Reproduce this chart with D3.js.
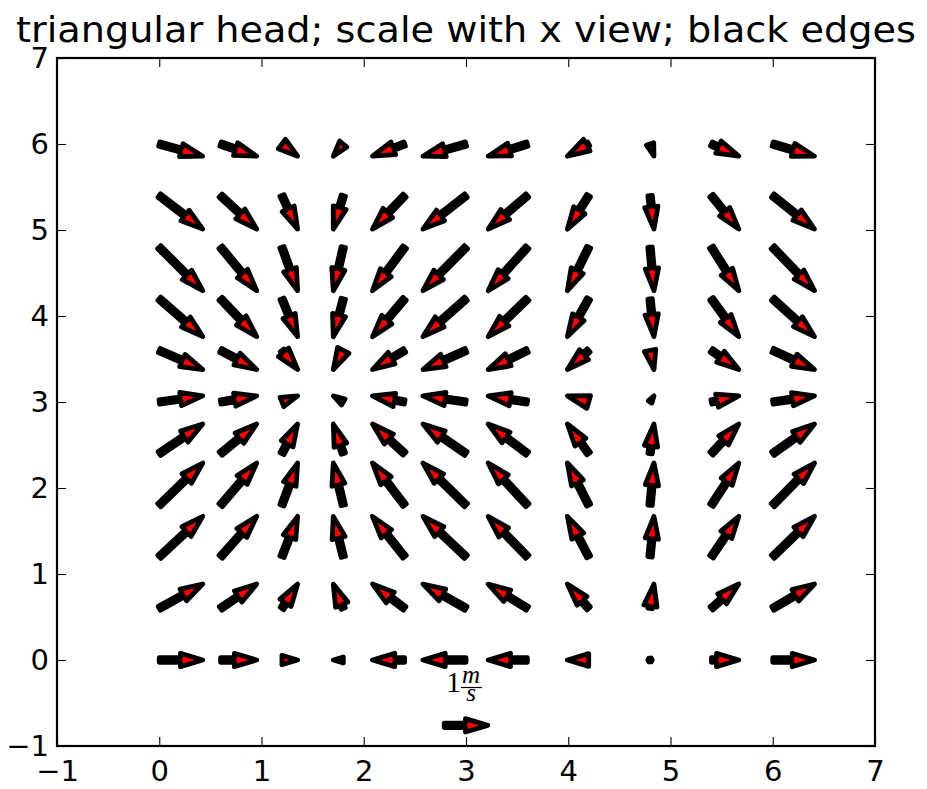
<!DOCTYPE html>
<html>
<head>
<meta charset="utf-8">
<script src="https://cdn.jsdelivr.net/npm/d3@7"></script>
<style>
  body { margin: 0; background: #fff; }
  text { font-family: "DejaVu Sans", sans-serif; }
</style>
</head>
<body>
<div id="plot-container"></div>
<script>
// grid positions (same for x and y)
const gridX = [0, 0.6, 1.2, 1.8, 2.4, 3.0, 3.6, 4.2, 4.8, 5.4, 6.0];
const gridY = [0, 0.6, 1.2, 1.8, 2.4, 3.0, 3.6, 4.2, 4.8, 5.4, 6.0];
// u depends on column, v on row
const uByCol = [1.00, 0.83, 0.36, -0.23, -0.74, -0.99, -0.90, -0.49, 0.09, 0.63, 0.96];
const vByRow = [0.00, 0.56, 0.93, 0.97, 0.68, 0.14, -0.44, -0.87, -1.00, -0.77, -0.28];
const tickValues = [-1, 0, 1, 2, 3, 4, 5, 6, 7];
const keyValue = 1;

const W = 927, H = 789;
const margin = { top: 58, right: 52, bottom: 43, left: 57 };

const svg = d3.select("#plot-container")
    .append("svg")
    .attr("width", W)
    .attr("height", H);

const xScale = d3.scaleLinear().domain([-1, 7]).range([margin.left, W - margin.right]);
const yScale = d3.scaleLinear().domain([-1, 7]).range([H - margin.bottom, margin.top]);

const shaftW = 0.06 * (xScale(7) - xScale(-1)) / 11;   // quiver width in px
const lenScale = 43.5;                                     // px per 1 m/s

// arrow outline (matplotlib style triangular head)
function arrowPath(cx, cy, u, v, pivotMiddle) {
    const headwidth = 3, headlength = 5, headaxis = 5, minsh = 5, minlength = 1;
    const L = Math.hypot(u, v) * lenScale / shaftW;
    let X, Y;
    if (L < minlength) {
        X = d3.range(8).map(i => Math.cos(i * Math.PI / 3) * 0.5);
        Y = d3.range(8).map(i => Math.sin(i * Math.PI / 3) * 0.5);
    } else if (L < minsh) {
        const s = L / minsh;
        X = [0, 0, 0, minsh, 0, 0, 0, 0].map(d => d * s);
        Y = [0.5, 0.5, headwidth / 2, 0, -headwidth / 2, -0.5, -0.5, 0.5].map(d => d * s);
    } else {
        X = [0, L - headaxis, L - headlength, L, L - headlength, L - headaxis, 0, 0];
        Y = [0.5, 0.5, headwidth / 2, 0, -headwidth / 2, -0.5, -0.5, 0.5];
    }
    if (pivotMiddle && L >= minlength) X = X.map(d => d - L / 2);
    const th = Math.atan2(v, u);
    const c = Math.cos(th), s = Math.sin(th);
    const pts = X.map((xx, i) => [
        cx + shaftW * (xx * c - Y[i] * s),
        cy - shaftW * (xx * s + Y[i] * c)
    ]);
    return "M" + pts.map(p => p[0].toFixed(2) + "," + p[1].toFixed(2)).join("L") + "Z";
}

const arrows = [];
gridY.forEach((gy, r) => {
    gridX.forEach((gx, c) => {
        arrows.push({ x: gx, y: gy, u: uByCol[c], v: vByRow[r] });
    });
});

// axes: ticks inside on all sides
const tickLen = 9;
svg.append("g")
    .attr("transform", "translate(0," + yScale(-1) + ")")
    .call(d3.axisBottom(xScale).tickValues(tickValues).tickSizeInner(-tickLen).tickSizeOuter(0).tickPadding(14));
svg.append("g")
    .attr("transform", "translate(" + xScale(-1) + ",0)")
    .call(d3.axisLeft(yScale).tickValues(tickValues).tickSizeInner(-tickLen).tickSizeOuter(0).tickPadding(8));
svg.append("g")
    .attr("transform", "translate(0," + yScale(7) + ")")
    .call(d3.axisTop(xScale).tickValues(tickValues).tickSizeInner(-tickLen).tickSizeOuter(0).tickFormat(""));
svg.append("g")
    .attr("transform", "translate(" + xScale(7) + ",0)")
    .call(d3.axisRight(yScale).tickValues(tickValues).tickSizeInner(-tickLen).tickSizeOuter(0).tickFormat(""));

svg.selectAll(".domain").remove();
svg.selectAll(".tick line").attr("stroke", "#000").attr("stroke-width", 1.1);
svg.selectAll(".tick text")
    .attr("fill", "#000")
    .style("font-family", "DejaVu Sans")
    .style("font-size", "29px");

// quiver
svg.append("g")
    .selectAll("path")
    .data(arrows)
    .enter()
    .append("path")
    .attr("d", d => arrowPath(xScale(d.x), yScale(d.y), d.u, d.v, false))
    .attr("fill", "#ff0000")
    .attr("stroke", "#000")
    .attr("stroke-width", 4.8)
    .attr("stroke-linejoin", "round");

// frame
svg.append("rect")
    .attr("x", xScale(-1))
    .attr("y", yScale(7))
    .attr("width", xScale(7) - xScale(-1))
    .attr("height", yScale(-1) - yScale(7))
    .attr("fill", "none")
    .attr("stroke", "#000")
    .attr("stroke-width", 2.2);

// quiver key
const keyX = xScale(-1) + 0.5 * (xScale(7) - xScale(-1));
const keyY = yScale(-1) - 0.03 * (yScale(-1) - yScale(7));
svg.append("path")
    .attr("d", arrowPath(keyX, keyY, keyValue, 0, true))
    .attr("fill", "#ff0000")
    .attr("stroke", "#000")
    .attr("stroke-width", 4.8)
    .attr("stroke-linejoin", "round");

const keyLabel = svg.append("g").attr("class", "key-label");
keyLabel.append("text")
    .attr("x", keyX - 20)
    .attr("y", 692)
    .style("font-family", "Liberation Serif")
    .style("font-size", "30px")
    .text("1");
keyLabel.append("text")
    .attr("x", keyX + 5)
    .attr("y", 683)
    .attr("text-anchor", "middle")
    .style("font-family", "Liberation Serif")
    .style("font-style", "italic")
    .style("font-size", "25px")
    .text("m");
keyLabel.append("line")
    .attr("x1", keyX - 5).attr("x2", keyX + 16)
    .attr("y1", 687.5).attr("y2", 687.5)
    .attr("stroke", "#000").attr("stroke-width", 1.2);
keyLabel.append("text")
    .attr("x", keyX + 5)
    .attr("y", 701)
    .attr("text-anchor", "middle")
    .style("font-family", "Liberation Serif")
    .style("font-style", "italic")
    .style("font-size", "25px")
    .text("s");

// title
svg.append("text")
    .attr("x", keyX)
    .attr("y", 42)
    .attr("text-anchor", "middle")
    .style("font-size", "35px")
    .attr("textLength", 900)
    .attr("lengthAdjust", "spacingAndGlyphs")
    .text("triangular head; scale with x view; black edges");
</script>
</body>
</html>
